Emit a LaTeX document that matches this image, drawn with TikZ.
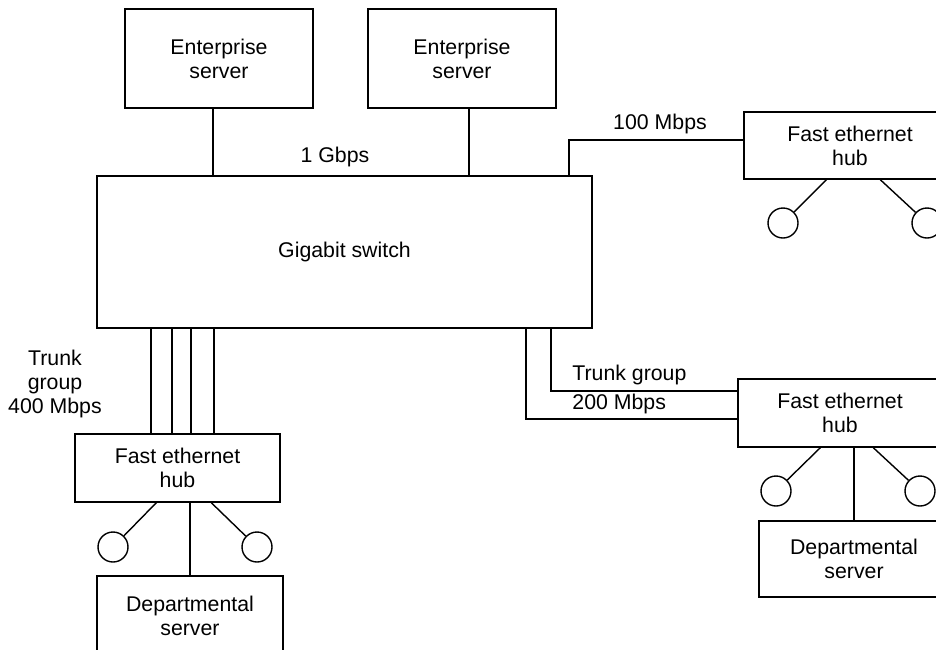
\documentclass[tikz,border=0pt]{standalone}
\usepackage{fontspec}
\setmainfont{Liberation Sans}
\begin{document}
\begin{tikzpicture}[x=0.5pt,y=-0.5pt,
  every node/.style={font=\fontsize{10.65pt}{12pt}\selectfont, align=center},
  box/.style={draw, line width=0.7pt, inner sep=0pt},
  pc/.style={draw, circle, line width=0.7pt, minimum size=15pt, inner sep=0pt},
  lbl/.style={inner sep=0pt},
  wire/.style={line width=0.7pt}]
\clip (0,0) rectangle (936,649);
\fill[white] (0,0) rectangle (936,649);
% boxes
\node[box, minimum width=94pt, minimum height=49.5pt] (es1) at (219,58.5) {Enterprise\\server};
\node[box, minimum width=94pt, minimum height=49.5pt] (es2) at (462,58.5) {Enterprise\\server};
\node[box, minimum width=247.5pt, minimum height=76pt] (sw) at (344.5,252) {Gigabit switch};
\node[box, minimum width=106pt, minimum height=33.5pt] (hub1) at (850,145.5) {Fast ethernet\\hub};
\node[box, minimum width=102.5pt, minimum height=34pt] (hub2) at (177.5,468) {Fast ethernet\\hub};
\node[box, minimum width=102pt, minimum height=34pt] (hub3) at (840,413) {Fast ethernet\\hub};
\node[box, minimum width=93pt, minimum height=39.5pt] (ds1) at (190,615.5) {Departmental\\server};
\node[box, minimum width=95pt, minimum height=38pt] (ds2) at (854,559) {Departmental\\server};
% circles
\node[pc] (c1a) at (783,223) {};
\node[pc] (c1b) at (927,223) {};
\node[pc] (c2a) at (113,547) {};
\node[pc] (c2b) at (257,547) {};
\node[pc] (c3a) at (776,491) {};
\node[pc] (c3b) at (920,491) {};
% attachment points on the switch
\coordinate (p1) at (213,176);
\coordinate (p2) at (469,176);
\coordinate (p3) at (569,176);
\coordinate (k1) at (151,328);
\coordinate (k2) at (172,328);
\coordinate (k3) at (191,328);
\coordinate (k4) at (214,328);
\coordinate (r1) at (526,328);
\coordinate (r2) at (551,328);
% connectors
\draw[wire] (p1 |- es1.south) -- (p1);
\draw[wire] (p2 |- es2.south) -- (p2);
\draw[wire] (p3) |- ([yshift=2.75pt]hub1.west);
\foreach \k in {k1,k2,k3,k4} \draw[wire] (\k) -- (\k |- hub2.north);
\draw[wire] (r1) |- ([yshift=-3pt]hub3.west);
\draw[wire] (r2) |- ([yshift=11pt]hub3.west);
\draw[wire] ([xshift=41.5pt]hub1.south west) -- (c1a);
\draw[wire] ([xshift=68.5pt]hub1.south west) -- (c1b);
\draw[wire] ([xshift=41pt]hub2.south west) -- (c2a);
\draw[wire] ([xshift=68.5pt]hub2.south west) -- (c2b);
\draw[wire] (ds1.north) -- (ds1.north |- hub2.south);
\draw[wire] ([xshift=41.5pt]hub3.south west) -- (c3a);
\draw[wire] ([xshift=68pt]hub3.south west) -- (c3b);
\draw[wire] (ds2.north) -- (ds2.north |- hub3.south);
% labels
\node[lbl] (l1) at (335,157) {1 Gbps};
\node[lbl] (l2) at (660,124) {100 Mbps};
\node[lbl] (l3) at (55,384) {Trunk\\group\\400 Mbps};
\node[lbl, anchor=west] (l4) at (572,375) {Trunk group};
\node[lbl, anchor=west] (l5) at (572,404) {200 Mbps};
\end{tikzpicture}
\end{document}
